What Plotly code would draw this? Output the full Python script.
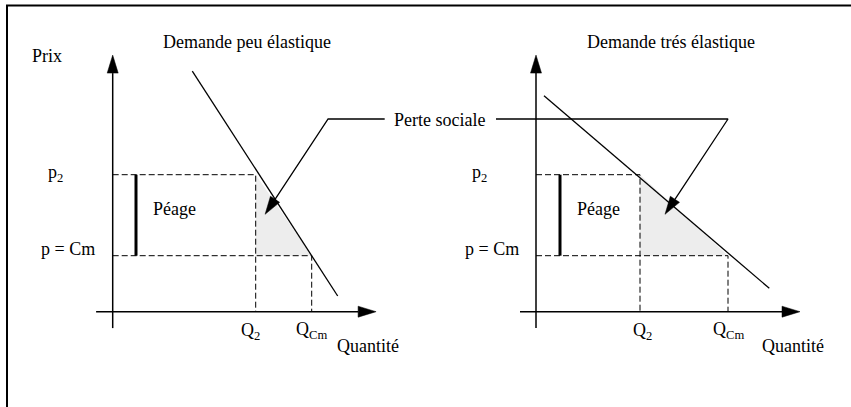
import math
import plotly.graph_objects as go

W, H = 851, 407

# ---- data (economic units: quantity, price) ----
panels = ["left", "right"]
titles = ["Demande peu élastique", "Demande trés élastique"]
q2_vals = [7.15, 5.2]
qcm_vals = [9.95, 9.6]
p2_vals = [6.85, 6.85]
pcm_vals = [2.8, 2.8]
demand_q = [[3.98, 11.25], [0.4, 11.665]]
demand_p = [[12.03, 0.785], [10.8, 1.17]]
axis_q = [[-0.83, 13.17], [-0.8, 13.2]]
axis_p = [-0.82, 12.83]
peage_q = [1.165, 1.2]
pointer_q = [[13.6, 10.77, 7.62], [-2.0, 9.6, 6.45]]
pointer_p = [9.635, 9.635, 4.87]

# ---- layout geometry ----
PX = 20.0  # pixels per unit (both axes)
origin_px = [(112.7, 311.7), (536.0, 311.7)]
dom = [(0.0, 425.5), (425.5, 851.0)]

FONT = dict(family="'Liberation Serif', 'Times New Roman', Times, serif", size=18, color="black")

fig = go.Figure()


def ax_names(i):
    return ("x", "y") if i == 0 else ("x2", "y2")


def arrowhead(tip, tail, length=18.0, width=11.0):
    dx, dy = tip[0] - tail[0], tip[1] - tail[1]
    n = math.hypot(dx, dy)
    ux, uy = dx / n, dy / n
    L, Wd = length / PX, width / PX / 2
    bx, by = tip[0] - ux * L, tip[1] - uy * L
    return ([tip[0], bx - uy * Wd, bx + uy * Wd, tip[0]],
            [tip[1], by + ux * Wd, by - ux * Wd, tip[1]])


def base_of(tip, tail, length=18.0):
    dx, dy = tip[0] - tail[0], tip[1] - tail[1]
    n = math.hypot(dx, dy)
    return tip[0] - dx / n * length / PX, tip[1] - dy / n * length / PX


for i in range(2):
    xa, ya = ax_names(i)
    q2, qcm, p2, pcm = q2_vals[i], qcm_vals[i], p2_vals[i], pcm_vals[i]
    common = dict(xaxis=xa, yaxis=ya, showlegend=False, hoverinfo="skip")

    # shaded deadweight-loss triangle
    fig.add_trace(go.Scatter(x=[q2, q2, qcm, q2], y=[p2, pcm, pcm, p2], mode="lines",
                             fill="toself", fillcolor="#ededed",
                             line=dict(width=0, color="rgba(0,0,0,0)"), **common))
    # dashed guides
    dash = dict(color="black", width=1, dash="6px,3px")
    fig.add_trace(go.Scatter(x=[0, q2, q2], y=[p2, p2, 0], mode="lines", line=dash, **common))
    fig.add_trace(go.Scatter(x=[0, qcm, qcm], y=[pcm, pcm, 0], mode="lines", line=dash, **common))

    # axes with arrowheads
    xb = base_of((axis_q[i][1], 0), (axis_q[i][0], 0))
    fig.add_trace(go.Scatter(x=[axis_q[i][0], xb[0]], y=[0, 0], mode="lines",
                             line=dict(color="black", width=1.5), **common))
    hx, hy = arrowhead((axis_q[i][1], 0), (axis_q[i][0], 0))
    fig.add_trace(go.Scatter(x=hx, y=hy, mode="lines", fill="toself", fillcolor="black",
                             line=dict(color="black", width=0.5), **common))
    yb = base_of((0, axis_p[1]), (0, axis_p[0]))
    fig.add_trace(go.Scatter(x=[0, 0], y=[axis_p[0], yb[1]], mode="lines",
                             line=dict(color="black", width=1.5), **common))
    hx, hy = arrowhead((0, axis_p[1]), (0, axis_p[0]))
    fig.add_trace(go.Scatter(x=hx, y=hy, mode="lines", fill="toself", fillcolor="black",
                             line=dict(color="black", width=0.5), **common))

    # demand curve
    fig.add_trace(go.Scatter(x=demand_q[i], y=demand_p[i], mode="lines",
                             line=dict(color="black", width=1.3), **common))

    # péage bar
    fig.add_trace(go.Scatter(x=[peage_q[i], peage_q[i]], y=[pcm, p2], mode="lines",
                             line=dict(color="black", width=3), **common))

    # pointer to loss triangle
    pq, pp = pointer_q[i], pointer_p
    tip, tail = (pq[2], pp[2]), (pq[1], pp[1])
    b = base_of(tip, tail)
    fig.add_trace(go.Scatter(x=[pq[0], pq[1], b[0]], y=[pp[0], pp[1], b[1]], mode="lines",
                             line=dict(color="black", width=1.3), **common))
    hx, hy = arrowhead(tip, tail)
    fig.add_trace(go.Scatter(x=hx, y=hy, mode="lines", fill="toself", fillcolor="black",
                             line=dict(color="black", width=0.5), **common))


def px2paper(px, py):
    return px / W, 1 - py / H


labels = [
    ("Prix", 47, 56),
    ("Demande peu élastique", 247, 41.5),
    ("p<sub>2</sub>", 55.5, 173),
    ("p = Cm", 68, 249),
    ("Péage", 174.5, 209),
    ("Q<sub>2</sub>", 250.5, 331),
    ("Q<sub>Cm</sub>", 311.5, 330),
    ("Quantité", 367.5, 346),
    ("Demande trés élastique", 670.5, 41.5),
    ("p<sub>2</sub>", 479.5, 173),
    ("p = Cm", 491.5, 249),
    ("Péage", 598.5, 209),
    ("Q<sub>2</sub>", 642, 331),
    ("Q<sub>Cm</sub>", 728, 330),
    ("Quantité", 792.5, 346),
    ("Perte sociale", 439.7, 120),
]
annotations = []
for txt, lx, ly in labels:
    x, y = px2paper(lx, ly)
    annotations.append(dict(text=txt, x=x, y=y, xref="paper", yref="paper",
                            xanchor="center", yanchor="middle", showarrow=False, font=FONT))

shapes = [
    dict(type="line", xref="paper", yref="paper", x0=6 / W, x1=1.0, y0=1 - 5.5 / H, y1=1 - 5.5 / H,
         line=dict(color="black", width=2)),
    dict(type="line", xref="paper", yref="paper", x0=7 / W, x1=7 / W, y0=1 - 5 / H, y1=0,
         line=dict(color="black", width=2)),
]

layout_axes = {}
for i in range(2):
    ox, oy = origin_px[i]
    d0, d1 = dom[i]
    xr = [(d0 - ox) / PX, (d1 - ox) / PX]
    yr = [(oy - H) / PX, oy / PX]
    key = "" if i == 0 else "2"
    layout_axes["xaxis" + key] = dict(domain=[d0 / W, d1 / W], range=xr, visible=False,
                                      fixedrange=True, anchor="y" + key)
    layout_axes["yaxis" + key] = dict(domain=[0, 1], range=yr, visible=False,
                                      fixedrange=True, anchor="x" + key)

fig.update_layout(width=W, height=H, margin=dict(l=0, r=0, t=0, b=0),
                  paper_bgcolor="white", plot_bgcolor="white",
                  font=FONT,
                  annotations=annotations, shapes=shapes, **layout_axes)

fig.write_html("out.html", config={"displayModeBar": False},
               post_script="document.body.style.margin='0';document.body.style.overflow='hidden';")
